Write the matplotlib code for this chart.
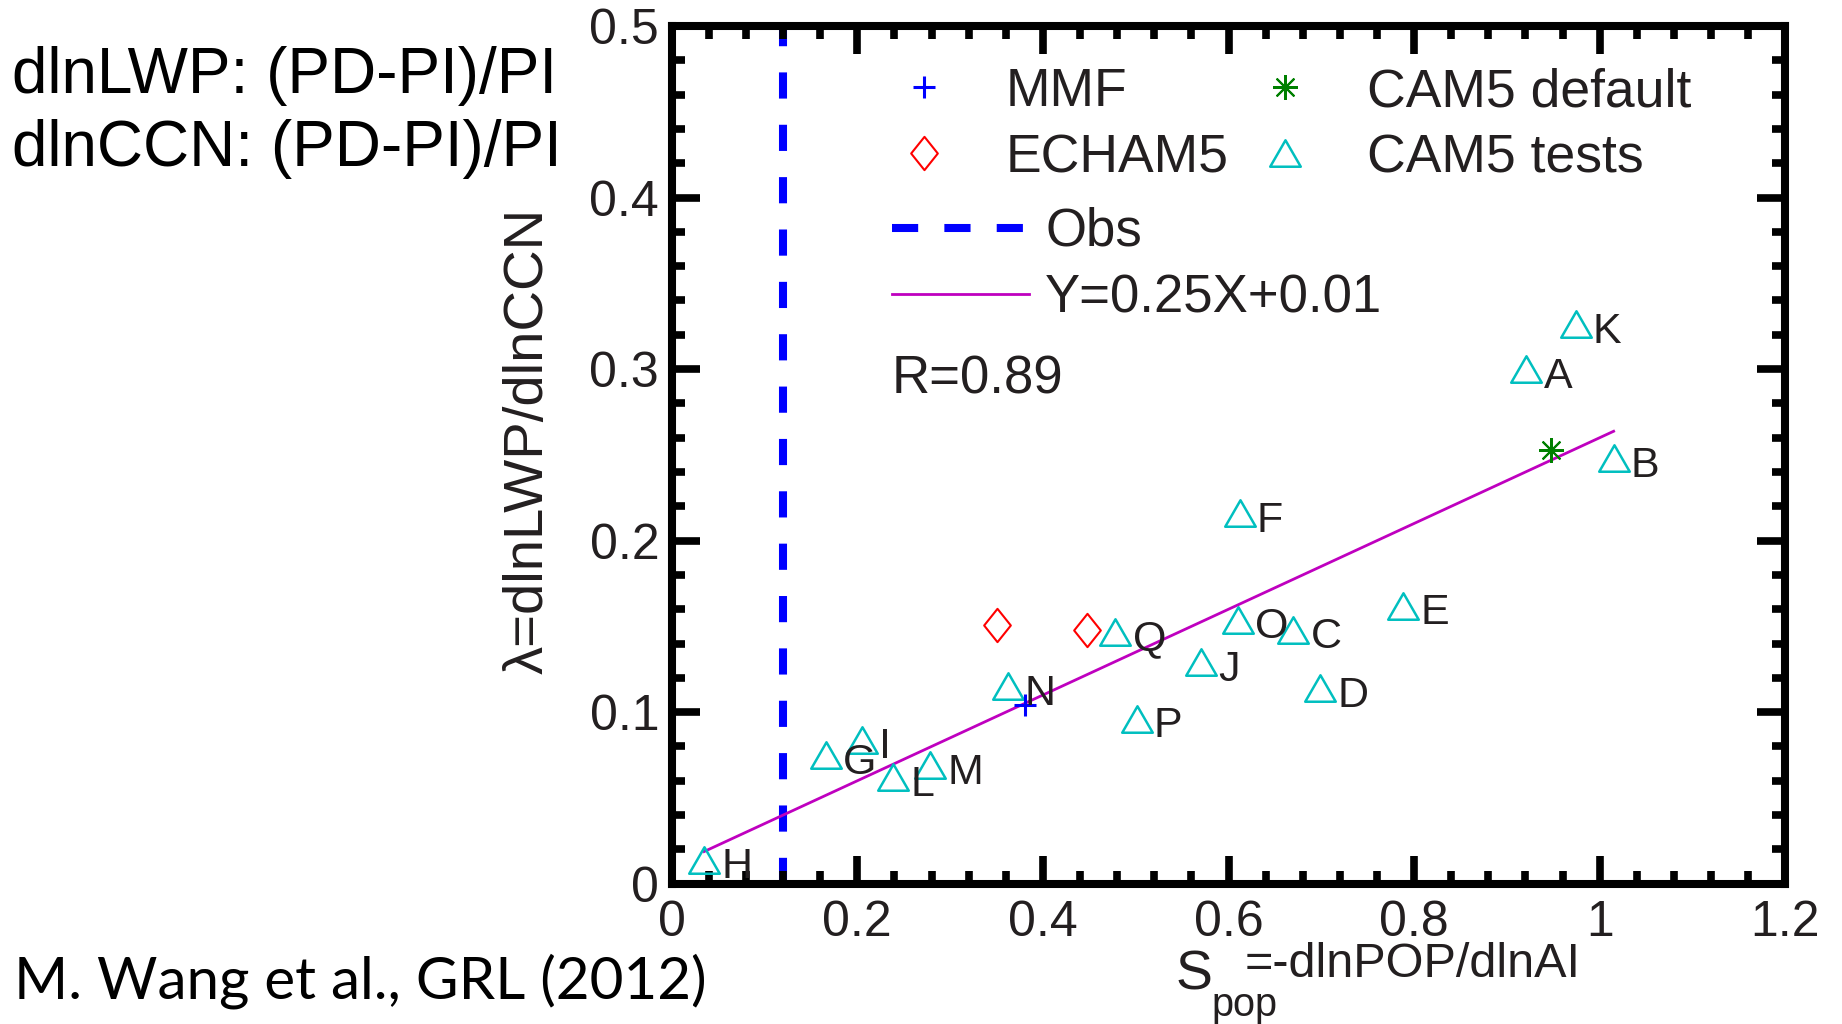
import numpy as np
import matplotlib
matplotlib.use("Agg")
import matplotlib.pyplot as plt
from matplotlib.path import Path

plt.rcParams['font.family'] = ['Liberation Sans', 'DejaVu Sans']

# ---- data -------------------------------------------------------------
test_labels = ["A", "B", "C", "D", "E", "F", "G", "H", "I",
               "J", "K", "L", "M", "N", "O", "P", "Q"]
test_spop = [0.921, 1.015, 0.670, 0.699, 0.788, 0.612, 0.166, 0.035, 0.205,
             0.570, 0.974, 0.239, 0.278, 0.362, 0.610, 0.501, 0.478]
test_lambda = [0.300, 0.248, 0.148, 0.114, 0.162, 0.216, 0.075, 0.014, 0.084,
               0.129, 0.326, 0.062, 0.069, 0.115, 0.154, 0.096, 0.147]

default_spop = [0.948]
default_lambda = [0.253]

mmf_spop = [0.381]
mmf_lambda = [0.104]

echam_spop = [0.351, 0.447]
echam_lambda = [0.151, 0.148]

obs_spop = 0.12

fit_slope = 0.25
fit_intercept = 0.01
corr_r = 0.89

x_ticks = [0, 0.2, 0.4, 0.6, 0.8, 1.0, 1.2]
x_ticklabels = ["0", "0.2", "0.4", "0.6", "0.8", "1", "1.2"]
y_ticks = [0, 0.1, 0.2, 0.3, 0.4, 0.5]
y_ticklabels = ["0", "0.1", "0.2", "0.3", "0.4", "0.5"]

# ---- figure -----------------------------------------------------------
W, H = 1842, 1024
fig = plt.figure(figsize=(W / 100, H / 100), dpi=100)
ax = fig.add_axes([671.7 / W, 1 - 883.7 / H, 1113.6 / W, 857.7 / H])

tri = Path([(0, 0.433), (-0.5, -0.433), (0.5, -0.433), (0, 0.433)],
           [Path.MOVETO, Path.LINETO, Path.LINETO, Path.CLOSEPOLY])
dia = Path([(0, 0.5), (0.4, 0), (0, -0.5), (-0.4, 0), (0, 0.5)],
           [Path.MOVETO, Path.LINETO, Path.LINETO, Path.LINETO, Path.CLOSEPOLY])

cyan = '#00BFBF'
magenta = '#BF00BF'
ink = '#231F20'

# observational estimate
obs_line = ax.axvline(obs_spop, color='#0000FF', lw=5.8,
                      linestyle=(0, (3.25, 3.25)), zorder=1)

# regression line over the CAM5 range
cam_x = np.array(test_spop + default_spop)
xs = np.array([cam_x.min(), cam_x.max()])
fit_line, = ax.plot(xs, fit_slope * xs + fit_intercept, color=magenta,
                    lw=2.0, zorder=2)

h_test, = ax.plot(test_spop, test_lambda, linestyle='none', marker=tri,
                  ms=22, mfc='none', mec=cyan, mew=1.8, zorder=3)
h_def, = ax.plot(default_spop, default_lambda, linestyle='none',
                 marker=(8, 2, 0), ms=18, mec='#008000', mew=1.5, zorder=4)
h_mmf, = ax.plot(mmf_spop, mmf_lambda, linestyle='none', marker='+',
                 ms=16.5, mec='#0000FF', mew=2.2, zorder=4)
h_ech, = ax.plot(echam_spop, echam_lambda, linestyle='none', marker=dia,
                 ms=24, mfc='none', mec='#FF0000', mew=1.5, zorder=4)

for lab, x, y in zip(test_labels, test_spop, test_lambda):
    ax.annotate(lab, (x, y), xytext=(12.5, -13.3), textcoords='offset points',
                ha='left', va='baseline', fontsize=31, color=ink, zorder=5)

# ---- axes styling -----------------------------------------------------
ax.set_xlim(0, 1.2)
ax.set_ylim(0, 0.5)
ax.set_xticks(x_ticks)
ax.set_xticklabels(x_ticklabels)
ax.set_yticks(y_ticks)
ax.set_yticklabels(y_ticklabels)
ax.set_xticks(np.arange(0, 1.2001, 0.04), minor=True)
ax.set_yticks(np.arange(0, 0.5001, 0.02), minor=True)
for s in ax.spines.values():
    s.set_linewidth(5.8)
ax.tick_params(which='both', direction='in', top=True, right=True,
               width=5.5, color='black')
ax.tick_params(which='major', length=20.5, labelsize=36, labelcolor=ink)
ax.tick_params(which='minor', length=9.5)
ax.tick_params(axis='x', which='major', pad=12)
ax.tick_params(axis='y', which='major', pad=9)

# ---- legends ----------------------------------------------------------
leg1 = ax.legend([h_mmf, h_ech, h_def, h_test],
                 ["MMF", "ECHAM5", "CAM5 default", "CAM5 tests"],
                 ncol=2, loc='upper left', bbox_to_anchor=(0.2026, 0.952),
                 frameon=False, borderpad=0, borderaxespad=0, fontsize=38.5,
                 handlelength=1.0, handletextpad=1.03, columnspacing=0.55,
                 labelspacing=0.3, numpoints=1, labelcolor=ink)
ax.add_artist(leg1)
ax.legend([obs_line, fit_line],
          ["Obs", "Y=%.2fX+%.2f" % (fit_slope, fit_intercept)],
          loc='upper left', bbox_to_anchor=(0.1978, 0.789), frameon=False,
          borderpad=0, borderaxespad=0, fontsize=38, handlelength=2.6,
          handletextpad=0.3, labelspacing=0.32, labelcolor=ink)
ax.text(0.1978, 0.5721, "R=%.2f" % corr_r, transform=ax.transAxes,
        ha='left', va='baseline', fontsize=38, color=ink)

# ---- axis titles ------------------------------------------------------
fig.text(1176 / W, 1 - 990 / H, "S", fontsize=40, ha='left', va='baseline',
         color=ink)
fig.text(1211 / W, 1 - 1016 / H, "pop", fontsize=28.5, ha='left',
         va='baseline', color=ink)
fig.text(1245 / W, 1 - 977 / H, "=-dlnPOP/dlnAI", fontsize=35, ha='left',
         va='baseline', color=ink)
fig.text(543 / W, 1 - 440.5 / H, "λ=dlnLWP/dlnCCN", fontsize=40.5,
         rotation=90, rotation_mode='anchor', ha='center', va='baseline',
         color=ink)

# ---- annotations ------------------------------------------------------
fig.text(12 / W, 1 - 93 / H, "dlnLWP: (PD-PI)/PI", fontsize=46,
         ha='left', va='baseline', color='black')
fig.text(12 / W, 1 - 166 / H, "dlnCCN: (PD-PI)/PI", fontsize=46,
         ha='left', va='baseline', color='black')
fig.text(14 / W, 1 - 998.3 / H, "M. Wang et al., GRL (2012)", fontsize=42,
         ha='left', va='baseline', color='black',
         family=['Lato', 'Liberation Sans', 'DejaVu Sans'])

fig.savefig("out.png", dpi=100)
